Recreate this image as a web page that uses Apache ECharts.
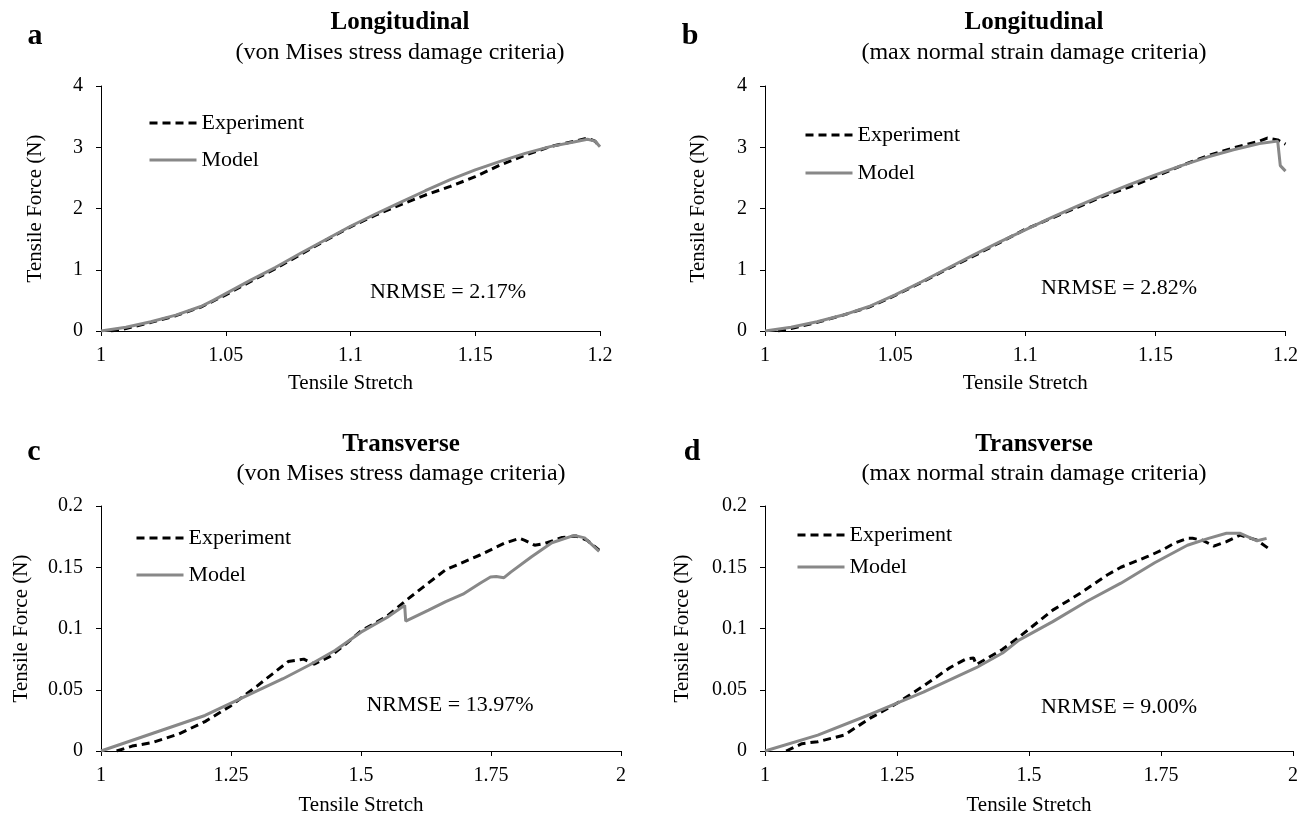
<!DOCTYPE html>
<html>
<head>
<meta charset="utf-8">
<script src="https://cdn.jsdelivr.net/npm/echarts@6/dist/echarts.min.js"></script>
<style>
  html, body { margin: 0; padding: 0; background: #fff; }
  #chart { width: 1301px; height: 818px; }
</style>
</head>
<body>
<div id="chart"></div>
<script>
// ---------------- DATA ----------------
// Panel a: Longitudinal, von Mises
const expA = [[1.004,0],[1.01,0.04],[1.02,0.14],[1.03,0.25],[1.04,0.39],[1.05,0.59],[1.06,0.81],[1.07,1.02],[1.08,1.25],[1.09,1.48],[1.10,1.70],[1.11,1.89],[1.12,2.06],[1.13,2.22],[1.14,2.36],[1.15,2.52],[1.16,2.71],[1.17,2.87],[1.18,3.01],[1.19,3.10],[1.195,3.15],[1.198,3.10],[1.2,3.00]];
const modelA = [[1.0,0],[1.01,0.06],[1.02,0.15],[1.03,0.26],[1.04,0.40],[1.045,0.5],[1.05,0.61],[1.06,0.83],[1.07,1.04],[1.08,1.27],[1.09,1.49],[1.10,1.71],[1.11,1.91],[1.12,2.10],[1.13,2.29],[1.14,2.47],[1.15,2.63],[1.16,2.77],[1.17,2.90],[1.18,3.01],[1.19,3.09],[1.195,3.13],[1.198,3.10],[1.2,3.01]];
// Panel b: Longitudinal, max normal strain
const expB = [[1.005,0],[1.01,0.04],[1.02,0.14],[1.03,0.26],[1.04,0.39],[1.05,0.58],[1.06,0.79],[1.07,1.01],[1.08,1.22],[1.09,1.44],[1.10,1.66],[1.11,1.84],[1.12,2.02],[1.13,2.20],[1.14,2.35],[1.15,2.52],[1.16,2.70],[1.17,2.86],[1.18,2.99],[1.19,3.10],[1.193,3.15],[1.197,3.12],[1.2,3.05]];
const modelB = [[1.0,0],[1.01,0.06],[1.02,0.15],[1.03,0.26],[1.04,0.40],[1.05,0.59],[1.06,0.80],[1.07,1.02],[1.08,1.24],[1.09,1.45],[1.10,1.65],[1.11,1.85],[1.12,2.04],[1.13,2.22],[1.14,2.39],[1.15,2.55],[1.16,2.70],[1.17,2.84],[1.18,2.96],[1.19,3.06],[1.197,3.10],[1.198,2.70],[1.2,2.61]];
// Panel c: Transverse, von Mises
const expC = [[1.03,0],[1.06,0.004],[1.1,0.007],[1.15,0.014],[1.2,0.024],[1.25,0.037],[1.3,0.053],[1.33,0.063],[1.36,0.073],[1.39,0.075],[1.41,0.071],[1.44,0.077],[1.47,0.087],[1.5,0.098],[1.55,0.110],[1.584,0.122],[1.617,0.133],[1.663,0.148],[1.696,0.154],[1.729,0.160],[1.775,0.1695],[1.805,0.1736],[1.815,0.172],[1.834,0.168],[1.854,0.1695],[1.887,0.1743],[1.913,0.1755],[1.935,0.172],[1.958,0.164]];
const modelC = [[1,0],[1.1,0.0145],[1.2,0.029],[1.25,0.039],[1.3,0.049],[1.35,0.059],[1.4,0.070],[1.45,0.082],[1.5,0.097],[1.55,0.109],[1.584,0.119],[1.586,0.106],[1.63,0.115],[1.663,0.122],[1.696,0.128],[1.729,0.137],[1.749,0.142],[1.76,0.1425],[1.775,0.1415],[1.788,0.146],[1.828,0.1586],[1.867,0.170],[1.91,0.176],[1.93,0.174],[1.958,0.163]];
// Panel d: Transverse, max normal strain
const expD = [[1.04,0],[1.07,0.006],[1.1,0.0076],[1.15,0.013],[1.2,0.027],[1.25,0.039],[1.3,0.053],[1.35,0.068],[1.38,0.075],[1.395,0.076],[1.40,0.0705],[1.45,0.083],[1.481,0.093],[1.545,0.115],[1.597,0.1287],[1.648,0.1437],[1.674,0.150],[1.726,0.159],[1.752,0.164],[1.777,0.170],[1.80,0.1736],[1.81,0.1736],[1.829,0.172],[1.85,0.1673],[1.874,0.1709],[1.9,0.1763],[1.932,0.172],[1.958,0.164]];
const modelD = [[1,0],[1.1,0.013],[1.2,0.030],[1.25,0.039],[1.3,0.048],[1.35,0.058],[1.4,0.068],[1.45,0.080],[1.481,0.0905],[1.545,0.1056],[1.609,0.122],[1.674,0.137],[1.738,0.1537],[1.8,0.168],[1.84,0.1736],[1.874,0.1777],[1.9,0.1777],[1.932,0.1716],[1.95,0.1736]];

const seriesNames = ['Experiment', 'Model'];
const panelLetters = ['a', 'b', 'c', 'd'];
const panelTitles = ['Longitudinal', 'Longitudinal', 'Transverse', 'Transverse'];
const panelSubtitles = ['(von Mises stress damage criteria)', '(max normal strain damage criteria)', '(von Mises stress damage criteria)', '(max normal strain damage criteria)'];
const nrmseTexts = ['NRMSE = 2.17%', 'NRMSE = 2.82%', 'NRMSE = 13.97%', 'NRMSE = 9.00%'];
const xAxisName = 'Tensile Stretch';
const yAxisName = 'Tensile Force (N)';
// axis ranges: [min, max, interval]
const xRanges = [[1, 1.2, 0.05], [1, 1.2, 0.05], [1, 2, 0.25], [1, 2, 0.25]];
const yRanges = [[0, 4, 1], [0, 4, 1], [0, 0.2, 0.05], [0, 0.2, 0.05]];

// ---------------- LAYOUT / STYLE ----------------
const FONT = '"Liberation Serif", "Times New Roman", serif';
const grids = [
  { left: 101, top: 86, width: 499, height: 245 },
  { left: 765, top: 86, width: 526, height: 245 },
  { left: 101, top: 506, width: 520, height: 245 },
  { left: 765, top: 506, width: 530, height: 245 }
];
const xNameGaps = [42, 42, 44, 44];
const yNameGaps = [55, 56, 69, 72];
const legendPos = [
  { left: 148, top: 112, itemGap: 15 },
  { left: 804, top: 124, itemGap: 16 },
  { left: 135, top: 527, itemGap: 15 },
  { left: 796, top: 524, itemGap: 10 }
];
const titlePos = [[400, 23, 53], [1034, 23, 53], [401, 445, 474], [1034, 445, 474]];
const letterPos = [[35, 36], [690, 36], [34, 452], [692, 452]];
const nrmsePos = [[448, 292], [1119, 288], [450, 705], [1119, 707]];

const expData = [expA, expB, expC, expD];
const modelData = [modelA, modelB, modelC, modelD];

const axisLineStyle = { color: '#000', width: 1 };

const xAxes = xRanges.map((r, i) => ({
  type: 'value', gridIndex: i, min: r[0], max: r[1], interval: r[2],
  axisLine: { show: true, lineStyle: axisLineStyle },
  axisTick: { show: true, length: 5, lineStyle: axisLineStyle },
  splitLine: { show: false },
  axisLabel: { color: '#000', fontFamily: FONT, fontSize: 20, margin: 15 },
  name: xAxisName, nameLocation: 'middle', nameGap: xNameGaps[i],
  nameTextStyle: { color: '#000', fontFamily: FONT, fontSize: 21 }
}));
const yAxes = yRanges.map((r, i) => ({
  type: 'value', gridIndex: i, min: r[0], max: r[1], interval: r[2],
  axisLine: { show: true, lineStyle: axisLineStyle },
  axisTick: { show: true, length: 5, lineStyle: axisLineStyle },
  splitLine: { show: false },
  axisLabel: { color: '#000', fontFamily: FONT, fontSize: 20, margin: 18 },
  name: yAxisName, nameLocation: 'middle', nameGap: yNameGaps[i], nameRotate: 90,
  nameTextStyle: { color: '#000', fontFamily: FONT, fontSize: 21 }
}));

const series = [];
for (let i = 0; i < 4; i++) {
  series.push({
    name: seriesNames[0], type: 'line', xAxisIndex: i, yAxisIndex: i,
    data: expData[i], showSymbol: false, symbol: 'none', animation: false,
    lineStyle: { color: '#000', width: 3, type: [8, 5] }, itemStyle: { color: '#000' }
  });
  series.push({
    name: seriesNames[1], type: 'line', xAxisIndex: i, yAxisIndex: i,
    data: modelData[i], showSymbol: false, symbol: 'none', animation: false,
    lineStyle: { color: '#888888', width: 3 }, itemStyle: { color: '#888888' }
  });
}

const legends = legendPos.map(p => ({
  orient: 'vertical', left: p.left, top: p.top, itemGap: p.itemGap,
  itemWidth: 47, itemHeight: 14, padding: 0, selectedMode: false,
  data: seriesNames,
  itemStyle: { opacity: 0 },
  lineStyle: { width: 3 },
  textStyle: { color: '#000', fontFamily: FONT, fontSize: 22, lineHeight: 22 }
}));

const graphics = [];
for (let i = 0; i < 4; i++) {
  graphics.push({ type: 'text', x: titlePos[i][0], y: titlePos[i][1],
    style: { text: panelTitles[i], font: 'bold 25px ' + FONT, fill: '#000', align: 'center', verticalAlign: 'middle' } });
  graphics.push({ type: 'text', x: titlePos[i][0], y: titlePos[i][2],
    style: { text: panelSubtitles[i], font: '24px ' + FONT, fill: '#000', align: 'center', verticalAlign: 'middle' } });
  graphics.push({ type: 'text', x: letterPos[i][0], y: letterPos[i][1],
    style: { text: panelLetters[i], font: 'bold 30px ' + FONT, fill: '#000', align: 'center', verticalAlign: 'middle' } });
  graphics.push({ type: 'text', x: nrmsePos[i][0], y: nrmsePos[i][1],
    style: { text: nrmseTexts[i], font: '22px ' + FONT, fill: '#000', align: 'center', verticalAlign: 'middle' } });
}

const chart = echarts.init(document.getElementById('chart'), null, { renderer: 'canvas' });
chart.setOption({
  backgroundColor: '#fff',
  animation: false,
  grid: grids,
  xAxis: xAxes,
  yAxis: yAxes,
  legend: legends,
  series: series,
  graphic: graphics
});
</script>
</body>
</html>
